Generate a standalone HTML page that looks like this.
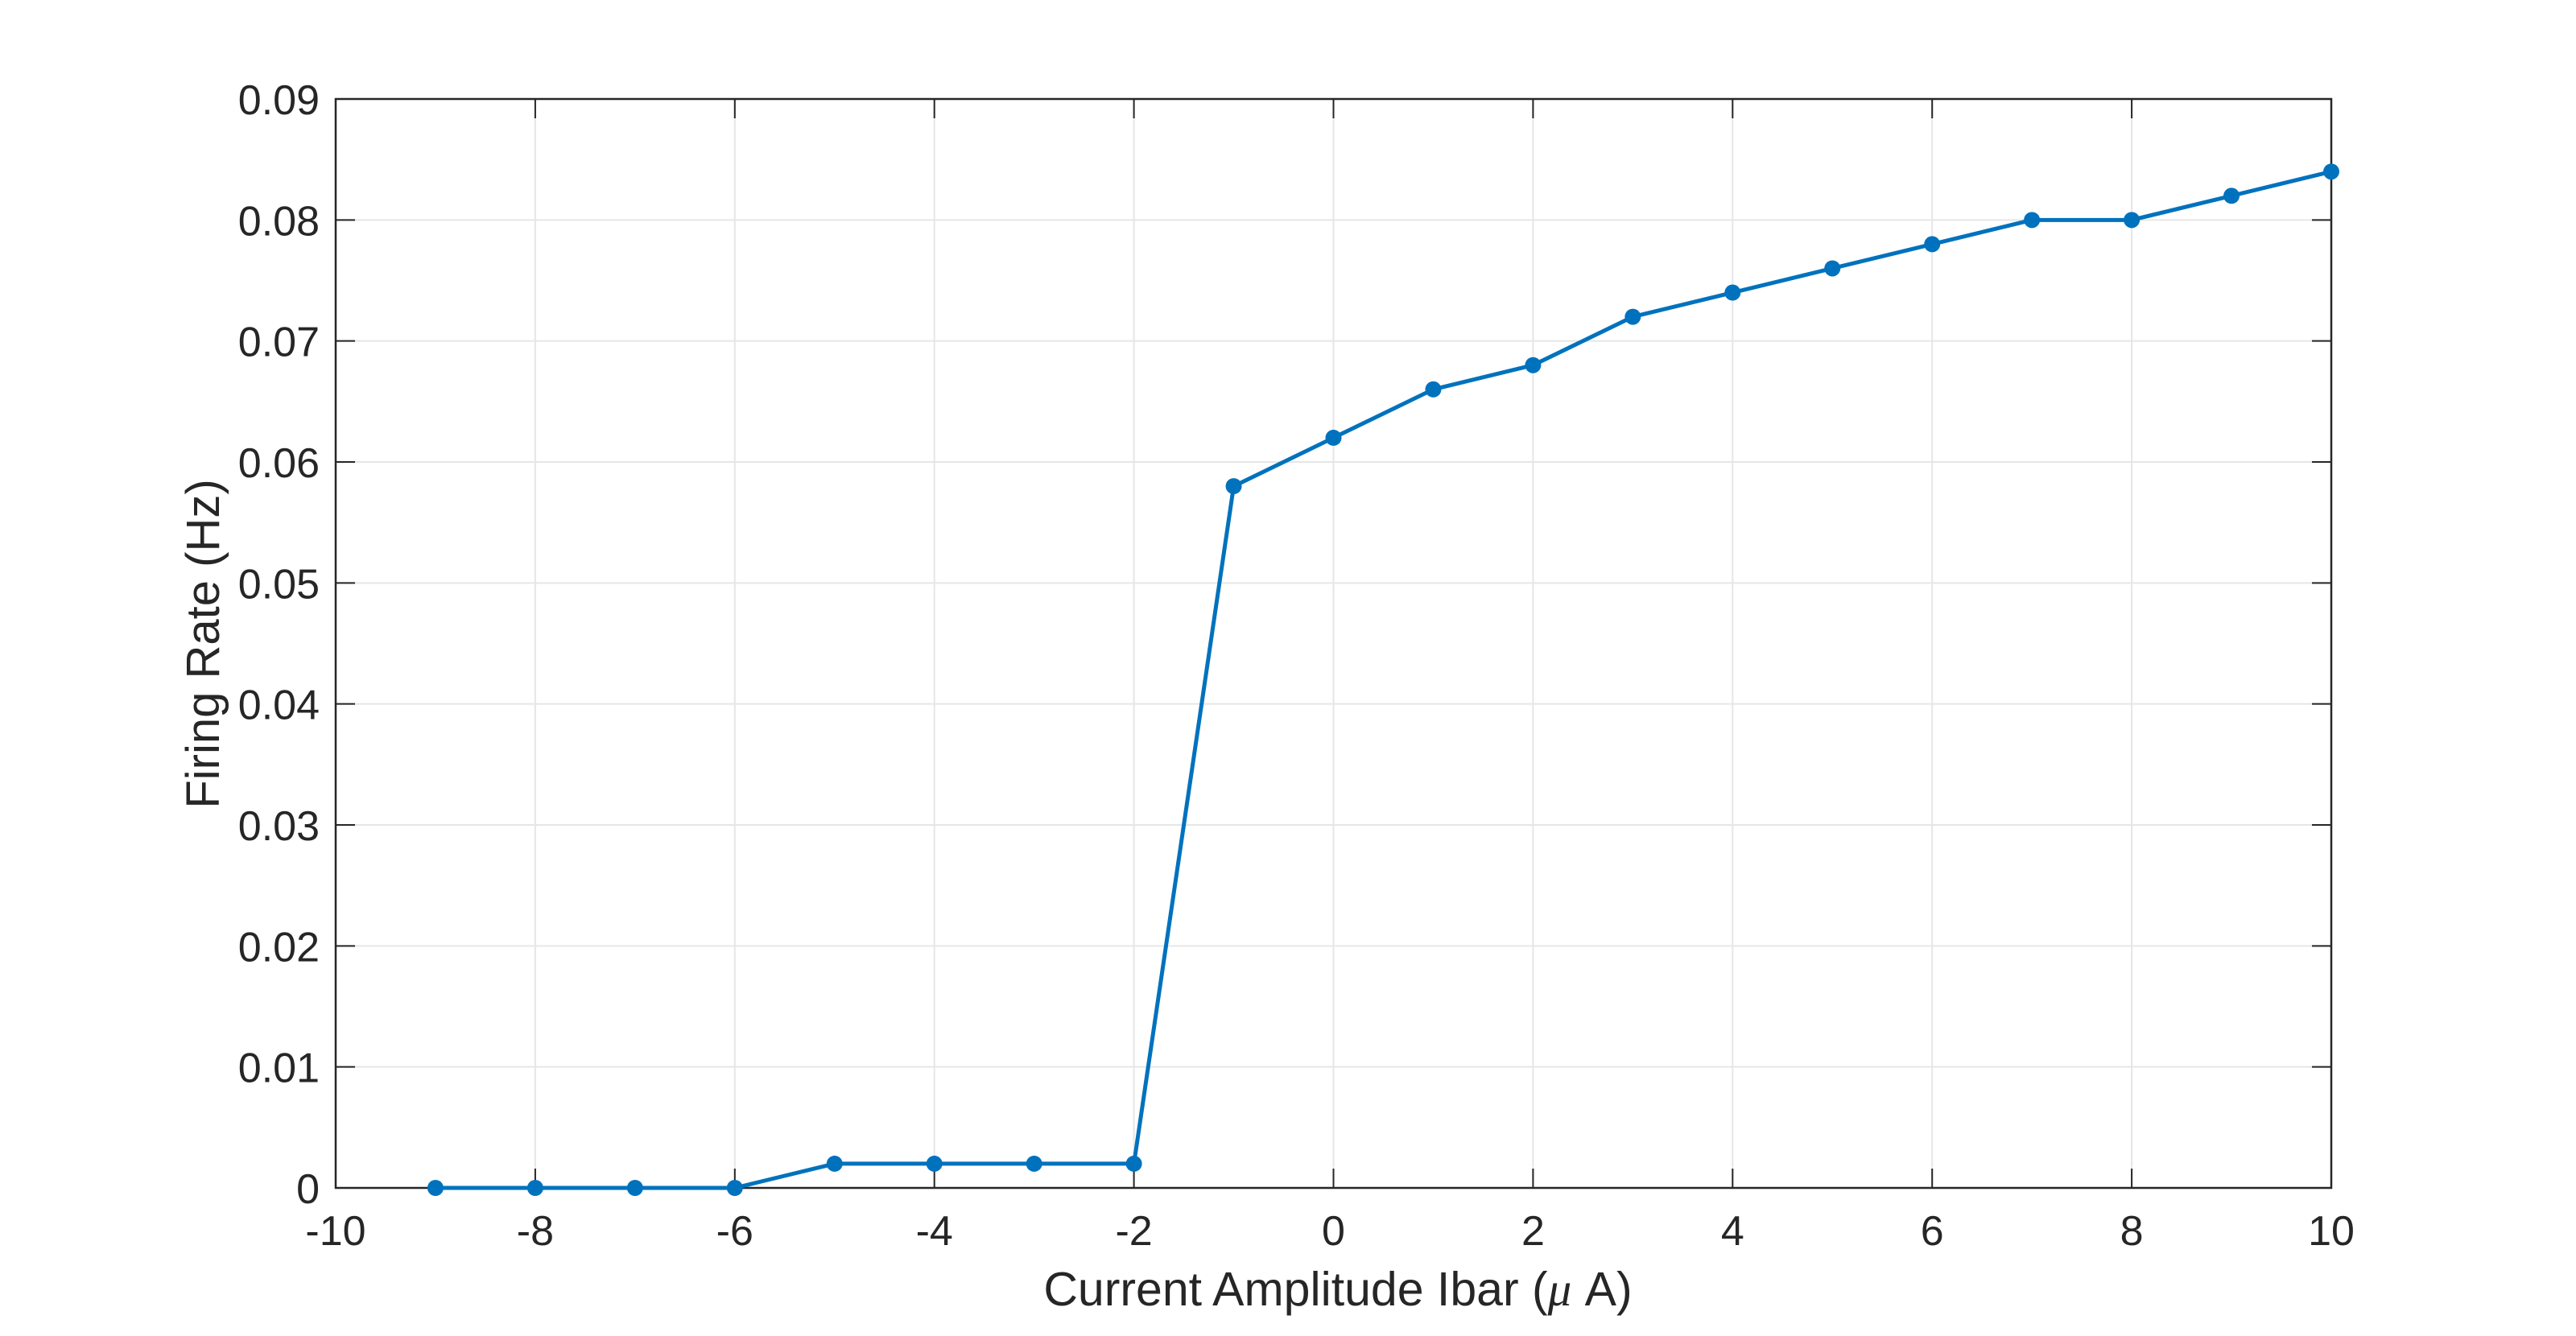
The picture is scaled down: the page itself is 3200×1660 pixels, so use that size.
<!DOCTYPE html>
<html><head><meta charset="utf-8"><style>
html,body{margin:0;padding:0;background:#fff;}
svg{display:block;font-family:"Liberation Sans",Arial,sans-serif;}
</style></head><body>
<svg id="chart" width="3200" height="1660" viewBox="0 0 3200 1660">
<g id="grid"></g>
<g id="axes"></g>
<g id="series"></g>
<text x="1662" y="1622" font-size="59" fill="#262626" text-anchor="middle">Current Amplitude Ibar (<tspan font-family="Liberation Serif,serif" font-style="italic">μ</tspan> A)</text>
<text transform="translate(272,800) rotate(-90)" font-size="58" fill="#262626" text-anchor="middle">Firing Rate (Hz)</text>
</svg>
<script>
const xValues = [-9,-8,-7,-6,-5,-4,-3,-2,-1,0,1,2,3,4,5,6,7,8,9,10];
const yValues = [0,0,0,0,0.002,0.002,0.002,0.002,0.058,0.062,0.066,0.068,0.072,0.074,0.076,0.078,0.080,0.080,0.082,0.084];
const xTicks = [-10,-8,-6,-4,-2,0,2,4,6,8,10];
const yTicks = [0,0.01,0.02,0.03,0.04,0.05,0.06,0.07,0.08,0.09];
const yTickLabels = ["0","0.01","0.02","0.03","0.04","0.05","0.06","0.07","0.08","0.09"];

const L=417,R=2896,T=123,B=1476;
const xMin=-10,xMax=10,yMin=0,yMax=0.09;
function sx(v){return L+(v-xMin)/(xMax-xMin)*(R-L);}
function sy(v){return B-(v-yMin)/(yMax-yMin)*(B-T);}
const NS="http://www.w3.org/2000/svg";
function mk(tag,attrs,parent){const e=document.createElementNS(NS,tag);for(const k in attrs)e.setAttribute(k,attrs[k]);parent.appendChild(e);return e;}
const grid=document.getElementById('grid'),axes=document.getElementById('axes'),series=document.getElementById('series');

xTicks.forEach((t,i)=>{
  const x=sx(t);
  const g=mk('line',{x1:x,x2:x,y1:T,y2:B,stroke:'#e6e6e6','stroke-width':2},grid);
  
  
  const tk=mk('line',{x1:x,x2:x,y1:B,y2:B-24,stroke:'#262626','stroke-width':2},axes);
  
  
  const tk2=mk('line',{x1:x,x2:x,y1:T,y2:T+24,stroke:'#262626','stroke-width':2},axes);
  
  
  const lb=mk('text',{x:x,y:1547,'font-size':52,fill:'#262626','text-anchor':'middle'},axes);
  lb.textContent=String(t);
  
  
});
yTicks.forEach((t,i)=>{
  const y=sy(t);
  const g=mk('line',{x1:L,x2:R,y1:y,y2:y,stroke:'#e6e6e6','stroke-width':2},grid);
  
  
  const tk=mk('line',{x1:L,x2:L+24,y1:y,y2:y,stroke:'#262626','stroke-width':2},axes);
  
  
  const tk2=mk('line',{x1:R,x2:R-24,y1:y,y2:y,stroke:'#262626','stroke-width':2},axes);
  
  
  const lb=mk('text',{x:397,y:y+19,'font-size':52,fill:'#262626','text-anchor':'end'},axes);
  lb.textContent=yTickLabels[i];
  
  
});
const box=mk('rect',{x:L,y:T,width:R-L,height:B-T,fill:'none',stroke:'#262626','stroke-width':2.5},axes);



const pts=xValues.map((x,i)=>sx(x)+','+sy(yValues[i])).join(' ');
const pl=mk('polyline',{points:pts,fill:'none',stroke:'#0072BD','stroke-width':5,'stroke-linejoin':'round'},series);


xValues.forEach((x,i)=>{
  const c=mk('circle',{cx:sx(x),cy:sy(yValues[i]),r:10,fill:'#0072BD'},series);
  
  
});
</script>
</body></html>
